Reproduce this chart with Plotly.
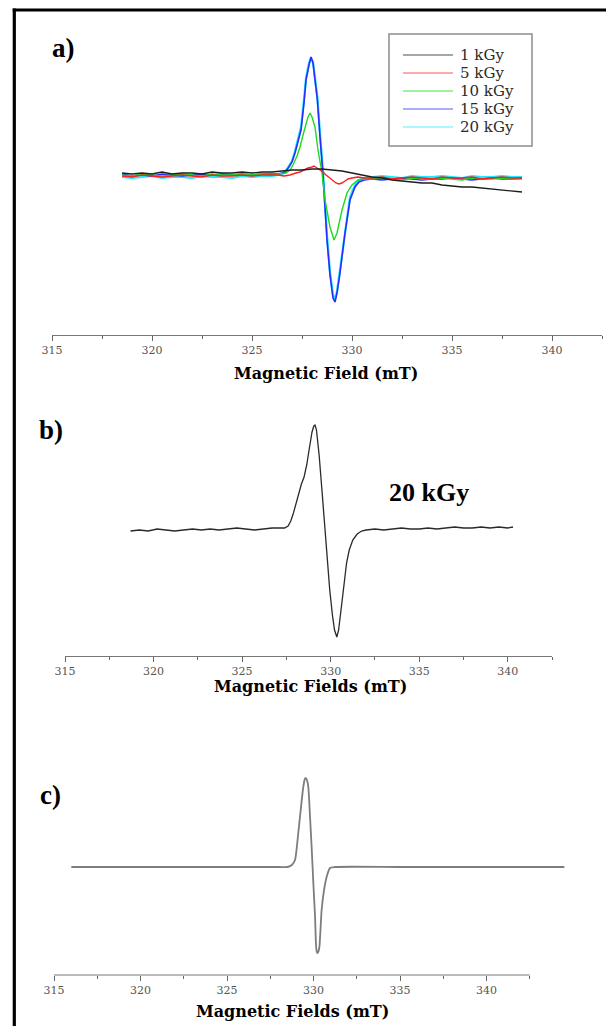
import plotly.graph_objects as go

# ---------------- data ----------------
# Panel a) – EPR spectra for several doses (intensity in arbitrary units)
a_left_field = [318.5, 319.0, 319.5, 320.0, 320.5, 321.0, 321.5, 322.0,
                322.5, 323.0, 323.5, 324.0, 324.5, 325.0, 325.5, 326.0]
a_right_field = [331.0, 331.5, 332.0, 332.5, 333.0, 333.5, 334.0, 334.5,
                 335.0, 335.5, 336.0, 336.5, 337.0, 337.5, 338.0, 338.5]

# 1 kGy (uniform 0.5 mT grid)
field_1kGy = [318.5, 319.0, 319.5, 320.0, 320.5, 321.0, 321.5, 322.0, 322.5,
              323.0, 323.5, 324.0, 324.5, 325.0, 325.5, 326.0, 326.5, 327.0,
              327.5, 328.0, 328.5, 329.0, 329.5, 330.0, 330.5, 331.0, 331.5,
              332.0, 332.5, 333.0, 333.5, 334.0, 334.5, 335.0, 335.5, 336.0,
              336.5, 337.0, 337.5, 338.0, 338.5]
int_1kGy = [2, 1, 2, 1, 3, 1, 2, 2, 1, 3, 2, 2, 3, 2, 3, 3, 4, 5, 5, 6, 6,
            5, 4, 2, 0, -2, -3, -5, -6, -7, -8, -8, -10, -11, -12, -12, -13,
            -14, -15, -16, -17]

# 5 kGy
peak_field_5kGy = [326.3, 326.6, 326.9, 327.2, 327.4, 327.6, 327.8, 328.0,
                   328.1, 328.25, 328.4, 328.55, 328.7, 328.9, 329.05, 329.2,
                   329.35, 329.5, 329.65, 329.8, 330.0, 330.3, 330.6]
left_5kGy = [-1, -2, 0, -1, -2, -1, 0, -1, -2, 0, -1, -1, 0, -1, 0, 0]
peak_5kGy = [0, -1, 0, 2, 3, 5, 7, 8, 9, 7, 5, 3, 0, -3, -6, -8, -9, -8,
             -6, -4, -3, -2, -3]
right_5kGy = [-3, -2, -4, -3, -2, -3, -4, -2, -3, -3, -2, -4, -3, -2, -3, -3]

# 10 kGy
peak_field_10kGy = [326.3, 326.5, 326.7, 326.9, 327.05, 327.25, 327.4, 327.55,
                    327.65, 327.8, 327.9, 328.0, 328.15, 328.3, 328.5, 328.65,
                    328.9, 329.05, 329.1, 329.25, 329.5, 329.75, 330.0, 330.3,
                    330.6]
left_10kGy = [0, -1, 1, 0, -1, 0, 1, 0, -1, 1, 0, 0, 1, 0, 1, 0]
peak_10kGy = [1, 1, 2, 5, 10, 19, 28, 40, 48, 58, 62, 58, 48, 25, 2, -25,
              -52, -63, -65, -58, -35, -18, -10, -5, -4]
right_10kGy = [-4, -3, -4, -5, -3, -4, -4, -3, -4, -5, -3, -4, -4, -3, -4, -4]

# 15 kGy and 20 kGy share the peak-region field grid
peak_field_hi = [326.3, 326.5, 326.65, 326.85, 327.0, 327.15, 327.3, 327.45,
                 327.6, 327.7, 327.85, 327.95, 328.05, 328.15, 328.27, 328.4,
                 328.55, 328.75, 328.9, 329.05, 329.15, 329.25, 329.4, 329.65,
                 329.9, 330.15, 330.35, 330.6]
left_15kGy = [1, -1, 0, -1, 1, 0, -1, 0, 1, 0, 1, 0, 1, 0, 1, 1]
peak_15kGy = [1, 2, 3, 8, 13, 22, 35, 45, 72, 95, 110, 118, 112, 95, 75, 38,
              0, -65, -100, -123, -127, -118, -98, -58, -25, -12, -7, -5]
right_15kGy = [-4, -5, -4, -3, -4, -5, -4, -4, -3, -4, -5, -4, -3, -4, -4, -3]

left_20kGy = [-2, -3, -2, -1, -3, -2, -2, -3, -1, -2, -2, -3, -1, -2, -1, -1]
peak_20kGy = [0, 1, 3, 9, 14, 24, 37, 48, 76, 97, 112, 117, 113, 97, 78, 42,
              4, -60, -97, -120, -124, -116, -95, -55, -22, -10, -5, -3]
right_20kGy = [-2, -1, -2, -3, -1, -2, -2, -1, -2, -3, -1, -2, -2, -1, -2, -2]

dose_labels = ["1 kGy", "5 kGy", "10 kGy", "15 kGy", "20 kGy"]
dose_colors = ["#1e1e1e", "#ff1f1f", "#1fd81f", "#2b2bff", "#1ee8ff"]
legend_colors = ["#8a8a8a", "#ff8f8f", "#7fef7f", "#8f8fff", "#8ff5ff"]

# Panel b) – 20 kGy spectrum
b_left_field = [318.7, 319.2, 319.7, 320.2, 320.7, 321.2, 321.7, 322.2, 322.7,
                323.2, 323.7, 324.2, 324.7, 325.2, 325.7, 326.2, 326.7, 327.2]
b_left_int = [-1, 0, -1, 1, 0, -1, 0, 1, 0, 1, 0, 1, 2, 1, 0, 1, 2, 2]
b_peak_field = [327.4, 327.6, 327.75, 327.9, 328.05, 328.2, 328.35, 328.5,
                328.65, 328.8, 328.95, 329.05, 329.12, 329.2, 329.35, 329.5,
                329.65, 329.8, 329.95, 330.1, 330.22, 330.35, 330.45, 330.6,
                330.75, 330.9, 331.05, 331.25, 331.5, 331.75]
b_peak_int = [2, 4, 9, 17, 27, 38, 46, 53, 65, 82, 98, 104, 105, 100, 75, 42,
              8, -28, -60, -85, -100, -107, -100, -78, -52, -33, -20, -10, -4,
              -1]
b_right_field = [332.0, 332.5, 333.0, 333.5, 334.0, 334.5, 335.0, 335.5,
                 336.0, 336.5, 337.0, 337.5, 338.0, 338.5, 339.0, 339.5,
                 340.0, 340.3]
b_right_int = [0, 1, 0, 1, 2, 1, 1, 2, 1, 2, 3, 2, 2, 3, 2, 3, 2, 3]

# Panel c) – simulated spectrum
c_field = [316.0, 320.0, 325.0, 328.0, 328.5, 328.75, 328.93, 329.12, 329.26,
           329.41, 329.5, 329.55, 329.62, 329.70, 329.80, 329.90, 329.99,
           330.09, 330.14, 330.18, 330.22, 330.27, 330.34, 330.47, 330.61,
           330.76, 330.95, 331.24, 335.0, 340.0, 344.5]
c_int = [0, 0, 0, 0, 0, 2, 7, 34, 57, 80, 88, 89, 87, 80, 50, 17, -16, -50,
         -76, -84, -86, -85, -80, -43, -23, -10, -1, 0, 0, 0, 0]

x_ticks = [315, 320, 325, 330, 335, 340]

# ---------------- layout helpers (pixel -> paper) ----------------
W, H = 606, 1026


def px(v):
    return v / W


def py(v):
    return 1 - v / H


fig = go.Figure()

series_a = {
    "1 kGy": (field_1kGy, int_1kGy),
    "5 kGy": (a_left_field + peak_field_5kGy + a_right_field,
              left_5kGy + peak_5kGy + right_5kGy),
    "10 kGy": (a_left_field + peak_field_10kGy + a_right_field,
               left_10kGy + peak_10kGy + right_10kGy),
    "15 kGy": (a_left_field + peak_field_hi + a_right_field,
               left_15kGy + peak_15kGy + right_15kGy),
    "20 kGy": (a_left_field + peak_field_hi + a_right_field,
               left_20kGy + peak_20kGy + right_20kGy),
}
draw_order = ["20 kGy", "15 kGy", "10 kGy", "5 kGy", "1 kGy"]
widths = {"1 kGy": 1.3, "5 kGy": 1.4, "10 kGy": 1.4, "15 kGy": 1.6, "20 kGy": 2.2}
for name in draw_order:
    xs, ys = series_a[name]
    i = dose_labels.index(name)
    fig.add_trace(go.Scatter(
        x=xs, y=ys, mode="lines", name=name, showlegend=False,
        line=dict(color=dose_colors[i], width=widths[name]),
        xaxis="x", yaxis="y"))

fig.add_trace(go.Scatter(
    x=b_left_field + b_peak_field + b_right_field,
    y=b_left_int + b_peak_int + b_right_int,
    mode="lines", showlegend=False, name="20 kGy",
    line=dict(color="#2a2a2a", width=1.3), xaxis="x2", yaxis="y2"))

fig.add_trace(go.Scatter(
    x=c_field, y=c_int, mode="lines", showlegend=False, name="simulated",
    line=dict(color="#7d7d7d", width=1.8, shape="spline", smoothing=0.6),
    xaxis="x3", yaxis="y3"))

tickfont = dict(family="DejaVu Serif", size=11, color="#555555")


def xaxis(domain, rng, showline=True):
    return dict(domain=domain, range=rng, tickmode="array",
                tickvals=x_ticks, ticktext=[str(t) for t in x_ticks],
                ticks="outside", ticklen=5, tickwidth=1, tickcolor="#666666",
                showline=showline, linecolor="#777777", linewidth=1.2,
                showgrid=False, zeroline=False, tickfont=tickfont,
                automargin=False,
                minor=dict(ticks="outside", ticklen=2.5, tickwidth=1,
                           tickcolor="#666666", tick0=315, dtick=2.5,
                           showgrid=False),
                fixedrange=True)


def yaxis(domain, rng, anchor):
    return dict(domain=domain, range=rng, visible=False, anchor=anchor,
                automargin=False, fixedrange=True)


c_right = 315 + (566 - 54) / 17.3

fig.update_layout(
    width=W, height=H, autosize=False,
    margin=dict(l=0, r=0, t=0, b=0, pad=0, autoexpand=False),
    paper_bgcolor="white", plot_bgcolor="rgba(0,0,0,0)",
    showlegend=False,
    xaxis=dict(xaxis([px(52), px(602)], [315, 342.5]), anchor="y"),
    yaxis=yaxis([py(335), py(20)], [-160, 155], "x"),
    xaxis2=dict(xaxis([px(65), px(552)], [315, 342.5]), anchor="y2"),
    yaxis2=yaxis([py(656), py(395)], [-126, 135], "x2"),
    xaxis3=dict(xaxis([px(54), px(566)], [315, c_right], showline=False),
                anchor="y3"),
    yaxis3=yaxis([py(975), py(750)], [-108, 117], "x3"),
)

# outer frame (left and top edges visible in the reference)
frame = dict(color="black", width=3.2)
fig.add_shape(type="line", xref="paper", yref="paper",
              x0=px(14.3), x1=px(14.3), y0=0, y1=py(8.4), line=frame)
fig.add_shape(type="line", xref="paper", yref="paper",
              x0=px(12.7), x1=1, y0=py(10), y1=py(10), line=frame)
# axis line of panel c (shorter than the data trace)
fig.add_shape(type="line", xref="x3", yref="paper", x0=315, x1=342.5,
              y0=py(975), y1=py(975), line=dict(color="#777777", width=1.2))

# legend box of panel a
fig.add_shape(type="rect", xref="paper", yref="paper",
              x0=px(389), x1=px(532), y0=py(146), y1=py(34),
              line=dict(color="#8c8c8c", width=1.5), fillcolor="rgba(0,0,0,0)")
legend_rows = [55, 73, 91, 109, 127]
for lab, col, row in zip(dose_labels, legend_colors, legend_rows):
    fig.add_shape(type="line", xref="paper", yref="paper",
                  x0=px(403), x1=px(453), y0=py(row), y1=py(row),
                  line=dict(color=col, width=1.6))
    fig.add_annotation(text=lab, xref="paper", yref="paper", showarrow=False,
                       x=px(458), y=py(row), xanchor="left", yanchor="middle",
                       font=dict(family="DejaVu Serif", size=15,
                                 color="#2a2a2a"))

label_font = dict(family="Liberation Serif", size=27, color="black")
title_font = dict(family="DejaVu Serif", size=16, color="black")
annotations = [
    dict(text="<b>a)</b>", x=px(63), y=py(48), font=label_font),
    dict(text="<b>b)</b>", x=px(51), y=py(430), font=label_font),
    dict(text="<b>c)</b>", x=px(50), y=py(795), font=label_font),
    dict(text="<b>20 kGy</b>", x=px(429), y=py(492),
         font=dict(family="Liberation Serif", size=26, color="black")),
    dict(text="<b>Magnetic Field (mT)</b>", x=px(326), y=py(374), font=title_font),
    dict(text="<b>Magnetic Fields (mT)</b>", x=px(310), y=py(686), font=title_font),
    dict(text="<b>Magnetic Fields (mT)</b>", x=px(292), y=py(1011), font=title_font),
]
for a in annotations:
    fig.add_annotation(xref="paper", yref="paper", showarrow=False,
                       xanchor="center", yanchor="middle", **a)

fig.write_html(
    "out.html",
    config={"displayModeBar": False},
    post_script="document.body.style.margin='0';"
                "document.body.style.overflow='hidden';")
